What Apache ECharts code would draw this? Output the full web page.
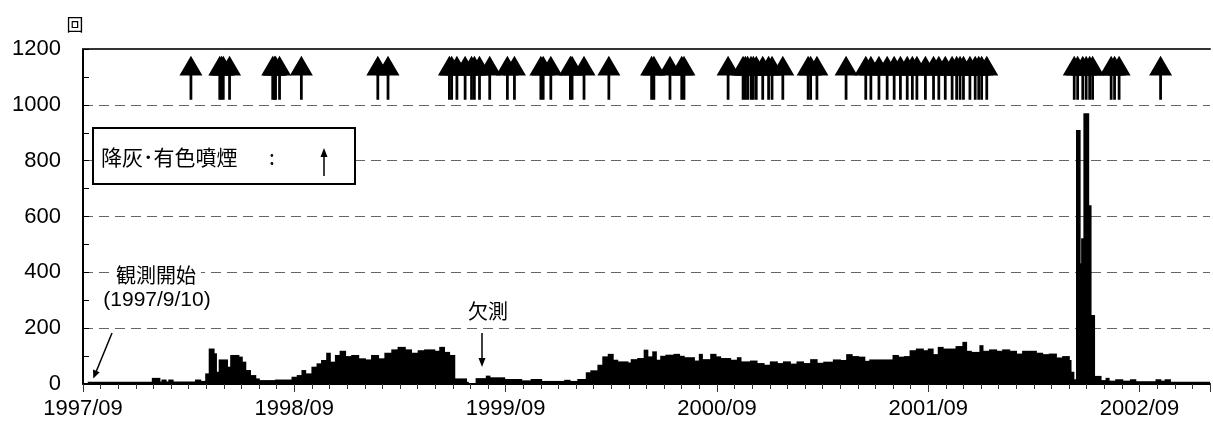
<!DOCTYPE html>
<html>
<head>
<meta charset="utf-8">
<script src="https://cdn.jsdelivr.net/npm/echarts@6/dist/echarts.min.js"></script>
<style>html,body{margin:0;padding:0;background:#fff}#c{width:1213px;height:426px}</style>
</head>
<body>
<div id="c"></div>
<script>
// Daily earthquake counts (step segments: each value holds from its start date until the next start)
const countStart = [
'1997-09-10','1997-12-30','1998-01-12','1998-01-16','1998-01-23','1998-01-28','1998-02-04','1998-03-13','1998-03-22','1998-03-31',
'1998-04-06','1998-04-14','1998-04-18','1998-04-23','1998-05-07','1998-05-13','1998-05-27','1998-06-02','1998-06-08','1998-06-16',
'1998-06-25','1998-07-01','1998-07-30','1998-08-28','1998-09-06','1998-09-14','1998-09-20','1998-10-01','1998-10-10','1998-10-18',
'1998-10-27','1998-11-02','1998-11-11','1998-11-19','1998-11-28','1998-12-09','1998-12-21','1999-01-02','1999-01-13','1999-01-25',
'1999-02-05','1999-02-16','1999-02-26','1999-03-10','1999-03-21','1999-04-02','1999-04-13','1999-04-30','1999-05-09','1999-05-17',
'1999-05-26','1999-06-04','1999-06-24','1999-06-27','1999-07-11','1999-07-29','1999-08-04','1999-08-30','1999-09-28','1999-10-15',
'1999-11-02','1999-12-12','1999-12-21','2000-01-04','2000-01-19','2000-01-27','2000-02-08','2000-02-16','2000-02-25','2000-03-04',
'2000-03-12','2000-03-30','2000-04-05','2000-04-16','2000-04-27','2000-05-03','2000-05-12','2000-05-18','2000-05-26','2000-06-04',
'2000-06-18','2000-06-27','2000-07-05','2000-07-23','2000-08-01','2000-08-06','2000-08-21','2000-08-30','2000-09-07','2000-09-24',
'2000-10-06','2000-10-12','2000-10-29','2000-11-09','2000-11-21','2000-12-02','2000-12-14','2000-12-25','2001-01-06','2001-01-18',
'2001-01-29','2001-02-10','2001-02-20','2001-03-03','2001-03-20','2001-04-01','2001-04-12','2001-04-21','2001-05-02','2001-05-13',
'2001-05-22','2001-07-01','2001-07-10','2001-07-21','2001-07-31','2001-08-11','2001-08-23','2001-09-01','2001-09-09','2001-09-18',
'2001-09-26','2001-10-19','2001-10-31','2001-11-06','2001-11-14','2001-11-29','2001-12-04','2001-12-16','2001-12-28','2002-01-08',
'2002-01-20','2002-02-01','2002-02-11','2002-03-05','2002-03-16','2002-03-28','2002-04-09','2002-04-20','2002-05-01','2002-05-04',
'2002-05-09','2002-05-14','2002-05-20','2002-05-23','2002-05-27','2002-06-04','2002-06-08','2002-06-14','2002-06-25','2002-07-04',
'2002-07-09','2002-07-21','2002-08-02','2002-08-16','2002-08-25','2002-09-29','2002-10-07','2002-10-15','2002-10-24'
];
const countValue = [
8,22,9,16,9,16,9,16,11,38,
127,110,44,88,62,104,98,80,50,32,
20,14,16,26,32,50,38,62,74,86,
112,80,104,119,100,104,92,88,104,92,
112,124,133,124,112,121,124,119,133,115,
104,20,8,0,21,30,24,18,13,18,
11,15,11,18,42,49,69,99,108,87,
81,77,89,93,123,99,117,87,101,105,
108,101,96,84,108,89,108,99,93,87,
96,81,84,75,69,81,75,81,73,81,
75,89,76,80,88,86,107,100,98,83,
88,104,98,100,121,127,121,127,107,133,
127,136,151,119,115,139,119,124,119,124,
119,109,119,112,107,109,95,100,86,44,
17,910,432,522,970,640,247,29,14,22,
12,17,12,17,10,17,12,17,8
];
const countEnd = '2003-01-01';

// Ash fall / coloured plume days (arrows)
const ashDates = [
'1998-03-05','1998-04-24','1998-04-27','1998-04-30','1998-05-11','1998-07-25','1998-07-28','1998-07-30','1998-08-06','1998-09-13',
'1999-01-24','1999-02-10','1999-05-26','1999-05-30','1999-06-08','1999-06-22','1999-07-03','1999-07-08','1999-07-17','1999-08-04',
'1999-09-04','1999-09-16','1999-11-01','1999-11-05','1999-11-18','1999-12-22','1999-12-25','2000-01-15','2000-02-26','2000-05-10',
'2000-05-14','2000-06-11','2000-07-01','2000-07-05','2000-09-20','2000-10-16','2000-10-20','2000-10-24','2000-10-30','2000-11-03',
'2000-11-08','2000-11-19','2000-11-29','2000-12-05','2000-12-24','2001-02-06','2001-02-10','2001-02-20','2001-04-11','2001-05-15',
'2001-05-24','2001-06-07','2001-06-21','2001-07-03','2001-07-14','2001-07-26','2001-08-04','2001-08-12','2001-08-27','2001-09-10',
'2001-09-19','2001-09-30','2001-10-12','2001-10-20','2001-10-26','2001-11-01','2001-11-12','2001-11-21','2001-11-27','2001-12-02',
'2001-12-11','2002-05-10','2002-05-16','2002-05-25','2002-05-31','2002-06-06','2002-06-11','2002-07-13','2002-07-19','2002-07-27',
'2002-10-07'
];

const yTicks = [0, 200, 400, 600, 800, 1000, 1200];
const xStartYear = 1997; // axis origin: 1997/09

function toMonth(s) {
  const p = s.split('-').map(Number);
  const dim = new Date(p[0], p[1], 0).getDate();
  return (p[0] - xStartYear) * 12 + (p[1] - 9) + (p[2] - 1) / dim;
}

const segData = countStart.map((s, i) => [
  toMonth(s),
  toMonth(i + 1 < countStart.length ? countStart[i + 1] : countEnd),
  countValue[i]
]);
const arrowLevel = 1097;
const arrowData = ashDates.map(d => [toMonth(d), arrowLevel]);
const xMax = toMonth(countEnd);

const chart = echarts.init(document.getElementById('c'));
const numFont = 'Liberation Sans, Arial, sans-serif';
const jpFont = '"Noto Sans CJK JP", sans-serif';

chart.setOption({
  animation: false,
  backgroundColor: '#fff',
  grid: { left: 83, top: 49, bottom: 42, right: -2, containLabel: false },
  xAxis: [
    {
      type: 'value', min: 0, max: xMax, interval: 1, position: 'bottom',
      axisLine: { onZero: false, lineStyle: { color: '#000', width: 2 } },
      axisTick: { length: 5, lineStyle: { color: '#333', width: 1 } },
      axisLabel: { show: false }, splitLine: { show: false }
    },
    {
      type: 'value', min: 0, max: xMax, interval: 12, position: 'bottom',
      axisLine: { show: false, onZero: false },
      axisTick: { length: 8, lineStyle: { color: '#333', width: 1 } },
      axisLabel: {
        fontSize: 22, color: '#000', fontFamily: numFont, margin: 14,
        formatter: v => (v % 12 === 0 && v < 64) ? (xStartYear + v / 12) + '/09' : ''
      },
      splitLine: { show: false }
    },
    {
      type: 'value', min: 0, max: xMax, position: 'top',
      axisLine: { show: true, onZero: false, lineStyle: { color: '#333', width: 2 } },
      axisTick: { show: false }, axisLabel: { show: false }, splitLine: { show: false }
    }
  ],
  yAxis: {
    type: 'value', min: yTicks[0], max: yTicks[yTicks.length - 1], interval: 200,
    name: '回', nameLocation: 'end', nameGap: 16,
    nameTextStyle: { fontSize: 17, color: '#000', fontFamily: jpFont, padding: [0, 16, 0, 0] },
    axisLine: { show: true, onZero: false, lineStyle: { color: '#000', width: 2 } },
    axisTick: { show: true, inside: true, length: 6, lineStyle: { color: '#000' } },
    minorTick: { show: true, splitNumber: 2, length: 6, lineStyle: { color: '#000' } },
    axisLabel: { fontSize: 22, color: '#000', fontFamily: numFont, margin: 22, formatter: v => String(v) },
    splitLine: { show: true, lineStyle: { color: '#666', width: 1.2, type: [10, 6] } }
  },
  series: [
    {
      type: 'custom', xAxisIndex: 0, clip: true,
      encode: { x: [0, 1], y: 2 },
      data: segData,
      renderItem: function (params, api) {
        const p0 = api.coord([api.value(0), 0]);
        const p1 = api.coord([api.value(1), api.value(2)]);
        return {
          type: 'rect',
          shape: { x: p0[0] - 0.5, y: p1[1], width: p1[0] - p0[0] + 1.2, height: p0[1] - p1[1] },
          style: { fill: '#000' }
        };
      },
      silent: true
    },
    {
      type: 'scatter', xAxisIndex: 0, data: arrowData,
      symbol: 'path://M50,0 L100,45 L0,45 Z M44,45 L56,45 L56,100 L44,100 Z',
      symbolSize: [23, 44],
      itemStyle: { color: '#000', opacity: 1 },
      silent: true, z: 5
    }
  ],
  graphic: [
    { type: 'rect', z: 100, shape: { x: 93, y: 128, width: 262, height: 56 },
      style: { fill: '#fff', stroke: '#000', lineWidth: 2 } },
    { type: 'text', z: 101, x: 101, y: 157,
      style: { text: '降灰･有色噴煙', font: '21px "Noto Sans CJK JP", sans-serif', fill: '#000', verticalAlign: 'middle' } },
    { type: 'text', z: 101, x: 269, y: 157,
      style: { text: ':', font: '21px "Noto Sans CJK JP", sans-serif', fill: '#000', verticalAlign: 'middle' } },
    { type: 'line', z: 101, shape: { x1: 324, y1: 176, x2: 324, y2: 154 }, style: { stroke: '#000', lineWidth: 1.5 } },
    { type: 'polygon', z: 101, shape: { points: [[320.5, 157], [324, 148], [327.5, 157]] }, style: { fill: '#000' } },

    { type: 'text', z: 101, x: 156, y: 275,
      style: { text: '観測開始', font: '20px "Noto Sans CJK JP", sans-serif', fill: '#000',
        align: 'center', verticalAlign: 'middle', backgroundColor: '#fff', padding: [2, 5] } },
    { type: 'text', z: 101, x: 157, y: 300,
      style: { text: '(1997/9/10)', font: '21px "Liberation Sans", Arial, sans-serif', fill: '#000',
        align: 'center', verticalAlign: 'middle' } },
    { type: 'line', z: 101, shape: { x1: 112, y1: 333, x2: 96, y2: 372 }, style: { stroke: '#000', lineWidth: 1.5 } },
    { type: 'polygon', z: 101, shape: { points: [[99.7, 372.3], [93.3, 378.5], [93.0, 369.6]] }, style: { fill: '#000' } },

    { type: 'text', z: 101, x: 488, y: 311,
      style: { text: '欠測', font: '20px "Noto Sans CJK JP", sans-serif', fill: '#000',
        align: 'center', verticalAlign: 'middle' } },
    { type: 'line', z: 101, shape: { x1: 482, y1: 333, x2: 482, y2: 360 }, style: { stroke: '#000', lineWidth: 1.5 } },
    { type: 'polygon', z: 101, shape: { points: [[478.5, 358], [482, 367], [485.5, 358]] }, style: { fill: '#000' } }
  ]
});
</script>
</body>
</html>
